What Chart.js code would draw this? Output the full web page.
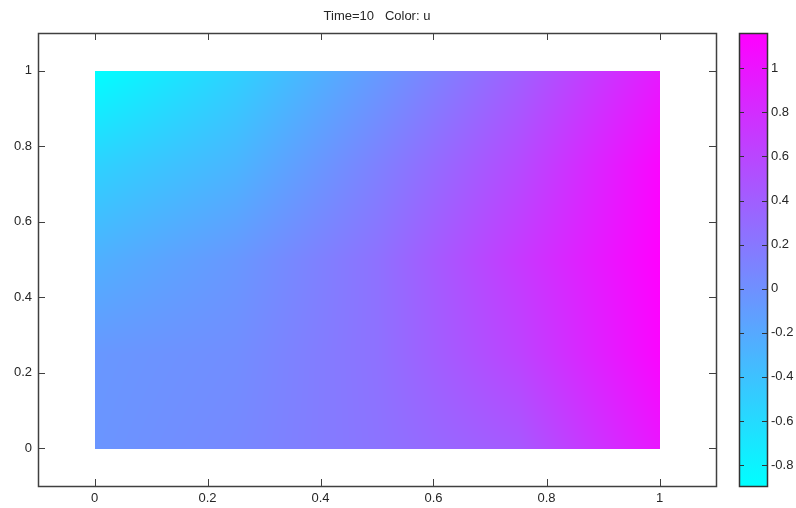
<!DOCTYPE html>
<html>
<head>
<meta charset="utf-8">
<script src="https://cdn.jsdelivr.net/npm/chart.js@4/dist/chart.umd.min.js"></script>
<style>
  body { margin: 0; background: #fff; }
  #wrap { position: relative; width: 796px; height: 508px; }
  #main { position: absolute; left: 0; top: 0; }
  #cbar { position: absolute; left: 730px; top: 0; }
</style>
</head>
<body>
<div id="wrap">
  <canvas id="main" width="796" height="508"></canvas>
  <canvas id="cbar" width="66" height="508"></canvas>
</div>
<script>
// grid nodes of the field
const gridX = [0, 0.25, 0.5, 0.75, 1];
const gridY = [0, 0.25, 0.5, 0.75, 1];

// u values, one row per y (bottom -> top)
const uY000 = [-0.04, 0.06, 0.23, 0.45, 0.99];
const uY025 = [-0.06, 0.02, 0.25, 0.62, 1.12];
const uY050 = [-0.26, -0.06, 0.25, 0.70, 1.16];
const uY075 = [-0.53, -0.30, 0.12, 0.56, 1.12];
const uY100 = [-0.895, -0.53, -0.08, 0.39, 0.95];

const xTicks = [0, 0.2, 0.4, 0.6, 0.8, 1];
const yTicks = [0, 0.2, 0.4, 0.6, 0.8, 1];
const cbTicks = [-0.8, -0.6, -0.4, -0.2, 0, 0.2, 0.4, 0.6, 0.8, 1];

const uRows = [uY000, uY025, uY050, uY075, uY100];
const uMin = Math.min(...uRows.flat());
const uMax = Math.max(...uRows.flat());

const FONT = { family: "'Liberation Sans', Arial, sans-serif", size: 13 };
const TXT = '#262626';
const FRAME = '#404040';

// cool colormap: cyan -> magenta
function coolColor(v) {
    let t = (v - uMin) / (uMax - uMin);
    t = Math.max(0, Math.min(1, t));
    return [Math.round(255 * t), Math.round(255 * (1 - t)), 255];
}

function findCell(arr, v) {
    let i = 0;
    while (i < arr.length - 2 && v > arr[i + 1]) i++;
    return i;
}

// bilinear lookup in the grid
function sampleU(x, y) {
    const i = findCell(gridX, x), j = findCell(gridY, y);
    const fx = Math.max(0, Math.min(1, (x - gridX[i]) / (gridX[i + 1] - gridX[i])));
    const fy = Math.max(0, Math.min(1, (y - gridY[j]) / (gridY[j + 1] - gridY[j])));
    const a = uRows[j][i], b = uRows[j][i + 1], c = uRows[j + 1][i], d = uRows[j + 1][i + 1];
    return (a * (1 - fx) + b * fx) * (1 - fy) + (c * (1 - fx) + d * fx) * fy;
}

const heatPlugin = {
    id: 'heat',
    beforeDatasetsDraw(chart) {
        const xs = chart.scales.x, ys = chart.scales.y;
        const px0 = Math.round(xs.getPixelForValue(gridX[0]));
        const px1 = Math.round(xs.getPixelForValue(gridX[gridX.length - 1]));
        const py0 = Math.round(ys.getPixelForValue(gridY[gridY.length - 1]));
        const py1 = Math.round(ys.getPixelForValue(gridY[0]));
        const w = px1 - px0, h = py1 - py0 + 1;
        const off = document.createElement('canvas');
        off.width = w; off.height = h;
        const octx = off.getContext('2d');
        const img = octx.createImageData(w, h);
        for (let r = 0; r < h; r++) {
            const yv = ys.getValueForPixel(py0 + r);
            for (let c = 0; c < w; c++) {
                const xv = xs.getValueForPixel(px0 + c);
                const col = coolColor(sampleU(xv, yv));
                const k = (r * w + c) * 4;
                img.data[k] = col[0]; img.data[k + 1] = col[1]; img.data[k + 2] = col[2]; img.data[k + 3] = 255;
            }
        }
        octx.putImageData(img, 0, 0);
        chart.ctx.drawImage(off, px0, py0);
    },
    afterDraw(chart) {
        const ctx = chart.ctx, a = chart.chartArea;
        const xs = chart.scales.x, ys = chart.scales.y;
        const L = 7;
        ctx.save();
        ctx.strokeStyle = FRAME;
        ctx.lineWidth = 1;
        ctx.beginPath();
        xs.ticks.forEach(t => {
            const p = Math.round(xs.getPixelForValue(t.value)) + 0.5;
            ctx.moveTo(p, a.bottom); ctx.lineTo(p, a.bottom - L);
            ctx.moveTo(p, a.top); ctx.lineTo(p, a.top + L);
        });
        ys.ticks.forEach(t => {
            const p = Math.round(ys.getPixelForValue(t.value)) + 0.5;
            ctx.moveTo(a.left, p); ctx.lineTo(a.left + L, p);
            ctx.moveTo(a.right, p); ctx.lineTo(a.right - L, p);
        });
        ctx.stroke();
        ctx.lineWidth = 1.5;
        ctx.strokeRect(Math.round(a.left) + 0.5, Math.round(a.top) + 0.5,
            Math.round(a.right - a.left), Math.round(a.bottom - a.top));
        ctx.restore();
    }
};

// grid nodes as (invisible) points so the chart has data on its scales
const nodes = [];
gridY.forEach((y, j) => gridX.forEach((x, i) => nodes.push({ x: x, y: y, u: uRows[j][i] })));

new Chart(document.getElementById('main'), {
    type: 'scatter',
    data: { datasets: [{ label: 'u', data: nodes, pointRadius: 0, pointHoverRadius: 0 }] },
    options: {
        responsive: false,
        animation: false,
        devicePixelRatio: 1,
        layout: { padding: { left: 0, right: 80, top: 0, bottom: 0 } },
        plugins: {
            legend: { display: false },
            tooltip: { enabled: false },
            title: {
                display: true,
                text: 'Time=10   Color: u',
                color: TXT,
                font: { family: FONT.family, size: 13, weight: 'normal' },
                fullSize: false,
                padding: { top: 9, bottom: 8.4 }
            }
        },
        scales: {
            x: {
                type: 'linear',
                min: -0.1, max: 1.1,
                afterBuildTicks: s => { s.ticks = xTicks.map(v => ({ value: v })); },
                afterFit: s => { s.height = 22; },
                grid: { display: false, drawTicks: false },
                border: { display: false },
                ticks: { color: TXT, font: FONT, padding: 5, maxRotation: 0, callback: v => String(v) }
            },
            y: {
                type: 'linear',
                min: -0.1, max: 1.1,
                afterBuildTicks: s => { s.ticks = yTicks.map(v => ({ value: v })); },
                afterFit: s => { s.width = 38; },
                grid: { display: false, drawTicks: false },
                border: { display: false },
                ticks: { color: TXT, font: FONT, padding: 6, callback: v => String(v) }
            }
        }
    },
    plugins: [heatPlugin]
});

// colour bar
const cbPlugin = {
    id: 'cbframe',
    afterDraw(chart) {
        const ctx = chart.ctx, a = chart.chartArea, ys = chart.scales.y;
        const L = 5;
        ctx.save();
        ctx.strokeStyle = '#333';
        ctx.lineWidth = 1;
        ctx.beginPath();
        ys.ticks.forEach(t => {
            const p = Math.round(ys.getPixelForValue(t.value)) + 0.5;
            ctx.moveTo(a.left, p); ctx.lineTo(a.left + L, p);
            ctx.moveTo(a.right, p); ctx.lineTo(a.right - L, p);
        });
        ctx.stroke();
        ctx.lineWidth = 1.5;
        ctx.strokeRect(Math.round(a.left) + 0.5, Math.round(a.top) + 0.5,
            Math.round(a.right - a.left), Math.round(a.bottom - a.top));
        ctx.restore();
    }
};

new Chart(document.getElementById('cbar'), {
    type: 'bar',
    data: {
        labels: ['u'],
        datasets: [{
            data: [[uMin, uMax]],
            barPercentage: 1,
            categoryPercentage: 1,
            borderWidth: 0,
            backgroundColor: ctx => {
                const ch = ctx.chart, a = ch.chartArea;
                if (!a) return '#8080ff';
                const ys = ch.scales.y;
                const g = ch.ctx.createLinearGradient(0, ys.getPixelForValue(uMin), 0, ys.getPixelForValue(uMax));
                const lo = coolColor(uMin), hi = coolColor(uMax);
                g.addColorStop(0, 'rgb(' + lo.join(',') + ')');
                g.addColorStop(1, 'rgb(' + hi.join(',') + ')');
                return g;
            }
        }]
    },
    options: {
        responsive: false,
        animation: false,
        devicePixelRatio: 1,
        layout: { padding: { left: 9, right: 0, top: 33, bottom: 22 } },
        plugins: { legend: { display: false }, tooltip: { enabled: false } },
        scales: {
            x: { display: false },
            y: {
                position: 'right',
                min: uMin, max: uMax,
                afterBuildTicks: s => { s.ticks = cbTicks.map(v => ({ value: v })); },
                afterFit: s => { s.width = 29; },
                grid: { display: false, drawTicks: false },
                border: { display: false },
                ticks: { color: TXT, font: FONT, padding: 4, callback: v => String(v) }
            }
        }
    },
    plugins: [cbPlugin]
});
</script>
</body>
</html>
